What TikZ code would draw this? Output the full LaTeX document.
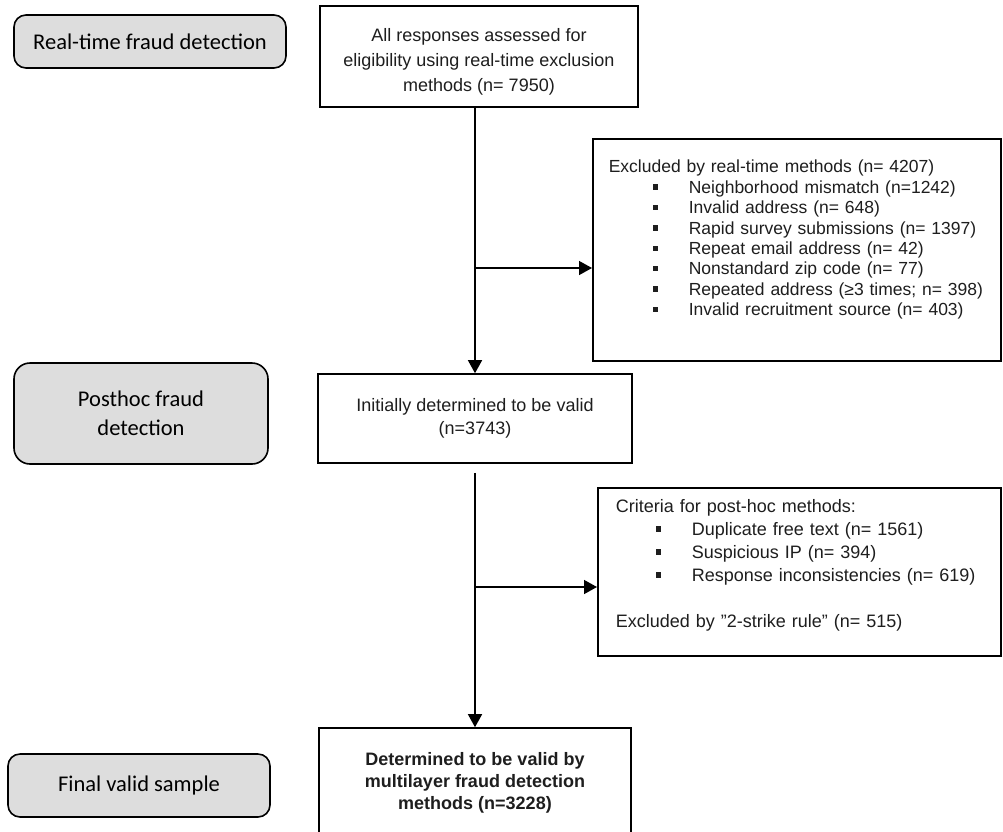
\documentclass[tikz,border=0pt]{standalone}
\usepackage{fontspec}
\setmainfont{Liberation Sans}
\newfontfamily\calibfont{Carlito}
\usetikzlibrary{arrows.meta}
\definecolor{gfill}{HTML}{DDDDDD}
\definecolor{tcol}{HTML}{1E1E1E}
\newcommand{\sqbul}{\rule[3.5pt]{5.5pt}{5.5pt}}
\newcommand{\bitem}[2]{\hspace*{#1}\makebox[36pt][l]{\sqbul}#2}
\begin{document}
\begin{tikzpicture}[x=1pt,y=-1pt,
  phase/.style={draw=black, line width=1.6pt, fill=gfill, rounded corners=12pt,
    font=\calibfont\fontsize{22.5}{29}\selectfont, align=center, inner sep=2pt},
  flowbox/.style={draw=black, line width=1.6pt, fill=white, text=tcol,
    align=center, inner sep=2pt},
  listbox/.style={draw=black, line width=1.6pt, fill=white, text=tcol,
    align=left, inner ysep=0pt, anchor=north west},
  conn/.style={draw=black, line width=1.4pt},
  arr/.style={conn, -{Triangle[length=13pt,width=14pt]}}
]
\clip (0,0) rectangle (1003,831);
\fill[white] (0,0) rectangle (1003,831);

% phase labels
\node[phase, minimum width=272pt, minimum height=53pt] (g1) at (150,41.5) {Real-time fraud detection};
\node[phase, minimum width=254pt, minimum height=101pt, rounded corners=16pt] (g2) at (141,413.5) {Posthoc fraud\\detection};
\node[phase, minimum width=262pt, minimum height=63pt] (g3) at (139,785.5) {Final valid sample};

% main flow boxes
\node[flowbox, minimum width=318pt, minimum height=101pt,
  font=\fontsize{18}{25}\selectfont] (A) at (479,56.5)
  {\rule{0pt}{24pt}All responses assessed for\\eligibility using real-time exclusion\\methods (n= 7950)};
\node[flowbox, minimum width=314pt, minimum height=89pt,
  font=\fontsize{18}{23}\selectfont] (B) at (475,418.5)
  {Initially determined to be valid\\(n=3743)};
\node[flowbox, minimum width=312pt, minimum height=110pt,
  font=\bfseries\fontsize{18}{22}\selectfont] (D) at (475,783)
  {Determined to be valid by\\multilayer fraud detection\\methods (n=3228)};

% exclusion boxes
\node[listbox, minimum width=408pt, minimum height=222pt, text width=376pt,
  inner xsep=16pt, font=\fontsize{17.5}{20.4}\selectfont] (C) at (592,138)
  {Excluded by real-time methods (n= 4207)\\
   \bitem{44pt}{Neighborhood mismatch (n=1242)}\\
   \bitem{44pt}{Invalid address (n= 648)}\\
   \bitem{44pt}{Rapid survey submissions (n= 1397)}\\
   \bitem{44pt}{Repeat email address (n= 42)}\\
   \bitem{44pt}{Nonstandard zip code (n= 77)}\\
   \bitem{44pt}{Repeated address (≥3 times; n= 398)}\\
   \bitem{44pt}{Invalid recruitment source (n= 403)}\par\vspace*{20pt}};
\node[listbox, minimum width=403pt, minimum height=168pt, text width=367pt,
  inner xsep=18pt, font=\fontsize{18}{23}\selectfont] (E) at (597,487)
  {Criteria for post-hoc methods:\\
   \bitem{40pt}{Duplicate free text (n= 1561)}\\
   \bitem{40pt}{Suspicious IP (n= 394)}\\
   \bitem{40pt}{Response inconsistencies (n= 619)}\\[23pt]
   Excluded by "2-strike rule" (n= 515)\par\vspace*{13pt}};

% connectors
\draw[arr] (B.north |- A.south) -- (B.north);
\coordinate (j1) at (475,268);
\draw[arr] (j1) -- (j1 -| C.west);
\draw[arr, shorten <=9pt] (B.south) -- (D.north);
\coordinate (j2) at (475,587);
\draw[arr] (j2) -- (j2 -| E.west);
\end{tikzpicture}
\end{document}
